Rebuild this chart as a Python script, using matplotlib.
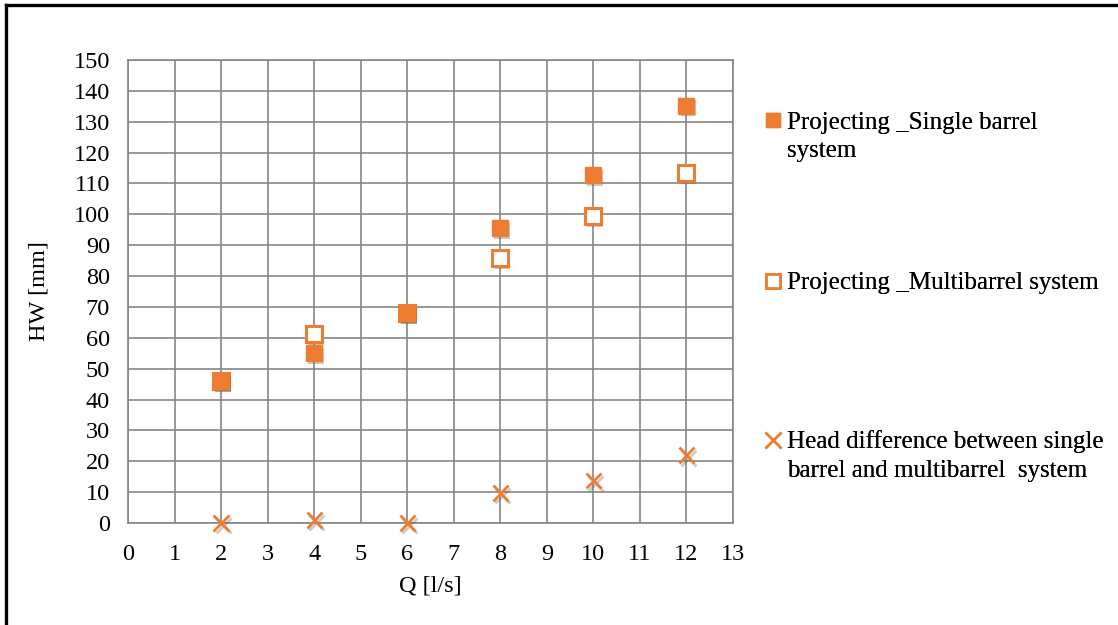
import matplotlib
matplotlib.use('Agg')
import matplotlib.pyplot as plt
import matplotlib.patheffects as pe
from matplotlib.lines import Line2D

plt.rcParams['font.family'] = ['Liberation Serif', 'DejaVu Serif']

q = [2, 4, 6, 8, 10, 12]
hw_single = [46, 55, 68, 95.6, 112.7, 135.2]
hw_multi = [46, 61.2, 68, 85.8, 99.4, 113.4]
hw_diff = [0, 1, 0, 9.7, 13.7, 22]

lab_single = ['Projecting _Single barrel', 'system']
lab_multi = ['Projecting _Multibarrel system']
lab_diff = ['Head difference between single', 'barrel and multibarrel  system']

orange = '#ED7D31'
grid_c = '#868686'

fig = plt.figure(figsize=(11.18, 6.25), dpi=100)
ax = fig.add_axes([0.1145, 0.1632, 0.5411, 0.7408])

shadow_sq = [pe.withSimplePatchShadow(offset=(1.5, -2), shadow_rgbFace='#555555', alpha=0.3)]
shadow_x = [pe.SimpleLineShadow(offset=(1.5, -2), shadow_color='#555555', alpha=0.3), pe.Normal()]

ax.plot(q, hw_multi, ls='none', marker='s', ms=11.5, mfc='white', mec=orange, mew=2.2,
        path_effects=shadow_sq, zorder=3, clip_on=False)
ax.plot(q, hw_single, ls='none', marker='s', ms=11.5, mfc=orange, mec=orange, mew=1,
        path_effects=shadow_sq, zorder=4, clip_on=False)
ax.plot(q, hw_diff, ls='none', marker='x', ms=11, mec=orange, mew=2,
        path_effects=shadow_x, zorder=5, clip_on=False)

ax.set_xlim(0, 13)
ax.set_ylim(0, 150)
ax.set_xticks(range(0, 14))
ax.set_yticks(range(0, 151, 10))
ax.grid(True, color=grid_c, lw=1.2)
ax.set_axisbelow(True)
for s in ax.spines.values():
    s.set_color(grid_c)
    s.set_linewidth(1.2)
ax.tick_params(length=0, labelsize=17.5, pad=15)
ax.tick_params(axis='y', pad=13)
ax.set_xlabel('Q [l/s]', fontsize=17.5, labelpad=8)
ax.set_ylabel('HW [mm]', fontsize=17.5, labelpad=17)

# legend entries placed separately like the original layout;
# the marker sits beside the first line of each label
h_single = Line2D([], [], ls='none', marker='s', ms=10, mfc=orange, mec=orange)
h_multi = Line2D([], [], ls='none', marker='s', ms=10, mfc='white', mec=orange, mew=2)
h_diff = Line2D([], [], ls='none', marker='x', ms=11, mec=orange, mew=1.8)
entries = [(h_single, lab_single, 0.781), (h_multi, lab_multi, 0.547), (h_diff, lab_diff, 0.270)]
for h, labs, yc in entries:
    handles = [h] + [Line2D([], [], ls='none') for _ in labs[1:]]
    leg = fig.legend(handles=handles, labels=labs, loc='center left', bbox_to_anchor=(0.685, yc),
                     frameon=False, fontsize=18, handlelength=0.55, handletextpad=0.3,
                     labelspacing=0.25, borderpad=0, borderaxespad=0)
    fig.add_artist(leg)

# page border (left and top)
fig.add_artist(Line2D([0.0055, 0.0055], [0, 0.992], color='black', lw=2.4, transform=fig.transFigure))
fig.add_artist(Line2D([0.0055, 1], [0.992, 0.992], color='black', lw=2.4, transform=fig.transFigure))

fig.savefig('out.png', dpi=100)
